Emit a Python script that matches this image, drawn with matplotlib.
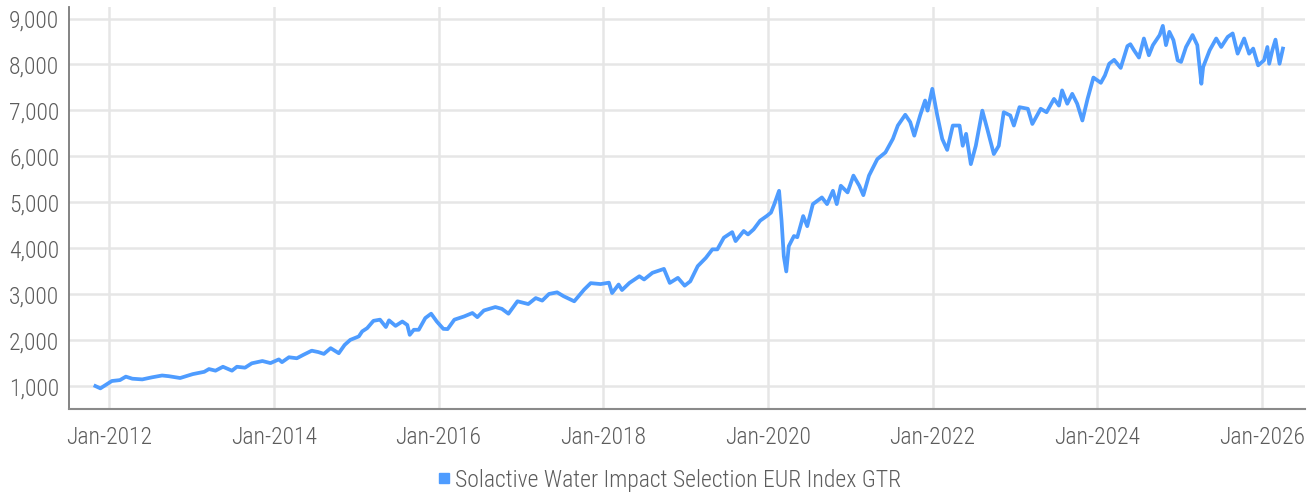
import numpy as np
import pandas as pd
import matplotlib
matplotlib.use("Agg")
import matplotlib.pyplot as plt
import matplotlib.dates as mdates
from matplotlib import font_manager
from matplotlib.lines import Line2D
from matplotlib.ticker import FuncFormatter

# index level (approximate turning points)
dates = [
    "2011-10-31", "2011-11-22", "2012-01-12", "2012-02-17", "2012-03-14", "2012-04-12",
    "2012-05-26", "2012-07-08", "2012-08-22", "2012-09-20", "2012-11-10", "2013-01-05",
    "2013-02-25", "2013-03-18", "2013-04-16", "2013-05-19", "2013-06-28", "2013-07-20",
    "2013-08-25", "2013-09-24", "2013-11-10", "2013-12-16", "2014-01-22", "2014-02-05",
    "2014-03-08", "2014-04-12", "2014-05-11", "2014-06-17", "2014-07-16", "2014-08-10",
    "2014-09-09", "2014-10-15", "2014-11-10", "2014-12-05", "2014-12-28", "2015-01-12",
    "2015-01-27", "2015-02-18", "2015-03-18", "2015-04-16", "2015-05-12", "2015-05-26",
    "2015-06-24", "2015-07-24", "2015-08-15", "2015-08-26", "2015-09-13", "2015-10-05",
    "2015-11-03", "2015-11-29", "2015-12-24", "2016-01-22", "2016-02-10", "2016-03-11",
    "2016-04-23", "2016-05-30", "2016-06-21", "2016-07-20", "2016-09-09", "2016-10-08",
    "2016-11-06", "2016-12-16", "2017-02-02", "2017-03-07", "2017-04-05", "2017-05-05",
    "2017-06-10", "2017-07-09", "2017-08-25", "2017-10-08", "2017-11-06", "2017-12-20",
    "2018-01-26", "2018-02-09", "2018-03-10", "2018-03-25", "2018-04-27", "2018-06-10",
    "2018-07-01", "2018-08-07", "2018-09-27", "2018-10-23", "2018-11-28", "2018-12-28",
    "2019-01-22", "2019-02-24", "2019-04-01", "2019-04-30", "2019-05-22", "2019-06-20",
    "2019-07-27", "2019-08-11", "2019-09-16", "2019-10-05", "2019-10-30", "2019-11-28",
    "2019-12-27", "2020-01-15", "2020-01-30", "2020-02-20", "2020-03-02", "2020-03-12",
    "2020-03-23", "2020-04-03", "2020-04-26", "2020-05-11", "2020-06-06", "2020-06-24",
    "2020-07-19", "2020-08-28", "2020-09-20", "2020-10-16", "2020-11-02", "2020-11-20",
    "2020-12-20", "2021-01-15", "2021-02-10", "2021-02-28", "2021-03-25", "2021-05-01",
    "2021-06-06", "2021-07-09", "2021-07-31", "2021-09-02", "2021-09-24", "2021-10-12",
    "2021-11-07", "2021-11-29", "2021-12-10", "2021-12-31", "2022-01-22", "2022-02-13",
    "2022-03-07", "2022-04-01", "2022-05-01", "2022-05-15", "2022-05-30", "2022-06-20",
    "2022-07-12", "2022-08-10", "2022-09-01", "2022-09-30", "2022-10-22", "2022-11-13",
    "2022-12-12", "2022-12-28", "2023-01-22", "2023-02-28", "2023-03-20", "2023-04-26",
    "2023-05-22", "2023-06-24", "2023-07-16", "2023-07-30", "2023-08-22", "2023-09-13",
    "2023-10-05", "2023-10-28", "2023-11-20", "2023-12-16", "2024-01-18", "2024-02-05",
    "2024-02-24", "2024-03-17", "2024-04-15", "2024-05-15", "2024-05-28", "2024-06-13",
    "2024-07-05", "2024-07-27", "2024-08-18", "2024-09-05", "2024-09-20", "2024-10-05",
    "2024-10-19", "2024-11-02", "2024-11-17", "2024-12-05", "2024-12-24", "2025-01-08",
    "2025-01-30", "2025-02-28", "2025-03-21", "2025-04-08", "2025-04-16", "2025-05-15",
    "2025-06-13", "2025-07-05", "2025-08-03", "2025-08-25", "2025-09-16", "2025-10-15",
    "2025-11-06", "2025-11-24", "2025-12-16", "2026-01-11", "2026-01-26", "2026-02-03",
    "2026-02-17", "2026-03-03", "2026-03-21", "2026-04-05",
]
values = [
    1000, 950, 1110, 1130, 1205, 1160,
    1145, 1190, 1230, 1215, 1175, 1260,
    1310, 1370, 1335, 1420, 1335, 1420,
    1400, 1495, 1545, 1500, 1580, 1520,
    1627, 1605, 1680, 1770, 1740, 1700,
    1825, 1715, 1895, 2005, 2050, 2080,
    2190, 2260, 2420, 2445, 2285, 2430,
    2310, 2405, 2330, 2115, 2225, 2225,
    2480, 2575, 2405, 2245, 2240, 2445,
    2515, 2590, 2500, 2645, 2720, 2680,
    2575, 2845, 2785, 2915, 2860, 3005,
    3040, 2955, 2845, 3100, 3240, 3220,
    3250, 3025, 3210, 3090, 3245, 3390,
    3320, 3465, 3550, 3245, 3355, 3185,
    3280, 3610, 3790, 3975, 3975, 4230,
    4350, 4155, 4375, 4300, 4410, 4600,
    4700, 4775, 4960, 5250, 4600, 3825,
    3495, 4045, 4265, 4240, 4700, 4480,
    4960, 5105, 4960, 5250, 4960, 5360,
    5215, 5580, 5360, 5155, 5580, 5940,
    6085, 6380, 6670, 6905, 6745, 6450,
    6890, 7215, 6995, 7470, 6890, 6380,
    6140, 6670, 6670, 6230, 6490, 5830,
    6230, 6995, 6595, 6050, 6230, 6960,
    6890, 6670, 7070, 7035, 6705, 7035,
    6960, 7250, 7105, 7435, 7145, 7360,
    7145, 6780, 7250, 7715, 7600, 7760,
    8015, 8100, 7925, 8400, 8440, 8310,
    8150, 8565, 8200, 8420, 8530, 8640,
    8840, 8420, 8710, 8530, 8090, 8055,
    8380, 8640, 8420, 7580, 7945, 8310,
    8565, 8380, 8600, 8675, 8235, 8565,
    8235, 8345, 7980, 8090, 8380, 8015,
    8310, 8540, 8015, 8345,
]
series_name = "Solactive Water Impact Selection EUR Index GTR"
tick_years = [2012, 2014, 2016, 2018, 2020, 2022, 2024, 2026]
y_ticks = [1000, 2000, 3000, 4000, 5000, 6000, 7000, 8000, 9000]

line_color = "#4e9cff"
text_color = "#5c5c5c"
grid_color = "#e6e6e6"

# condensed font if one is around
available = {f.name for f in font_manager.fontManager.ttflist}
family = "DejaVu Sans"
for cand in ["Liberation Sans Narrow", "Roboto Condensed", "Open Sans Condensed", "Roboto", "Liberation Sans"]:
    if cand in available:
        family = cand
        break
plt.rcParams["font.family"] = [family, "DejaVu Sans"]
plt.rcParams["font.weight"] = "light"

x = pd.to_datetime(dates)

fig = plt.figure(figsize=(13.15, 4.94), dpi=100)
ax = fig.add_axes([0.0525, 0.172, 0.9399, 0.8138])

ax.plot(x, values, color=line_color, lw=2.7, solid_joinstyle="round", zorder=3)

ax.set_xlim(pd.Timestamp("2011-07-06"), pd.Timestamp("2026-07-12"))
ax.set_ylim(500, 9250)
ax.set_xticks([pd.Timestamp(f"{yr}-01-01") for yr in tick_years])
ax.xaxis.set_major_formatter(mdates.DateFormatter("%b-%Y"))
ax.set_yticks(y_ticks)
ax.yaxis.set_major_formatter(FuncFormatter(lambda v, p: f"{v:,.0f}"))

ax.grid(True, color=grid_color, lw=1.8, zorder=0)
ax.set_axisbelow(True)
ax.tick_params(axis="both", length=0, labelsize=17, labelcolor=text_color)
ax.tick_params(axis="y", pad=7)
ax.tick_params(axis="x", pad=12)

for side in ["top", "right"]:
    ax.spines[side].set_visible(False)
ax.spines["left"].set_color("#7a7a7a")
ax.spines["left"].set_linewidth(1.3)
ax.spines["bottom"].set_color("#8a8a8a")
ax.spines["bottom"].set_linewidth(1.5)

handle = Line2D([], [], marker="s", linestyle="none", color=line_color, markersize=7.5)
fig.legend([handle], [series_name], loc="center", bbox_to_anchor=(0.507, 0.028),
           frameon=False, fontsize=17, labelcolor=text_color,
           handletextpad=0.0, handlelength=1.0, borderaxespad=0)

fig.savefig("out.png", dpi=100)
